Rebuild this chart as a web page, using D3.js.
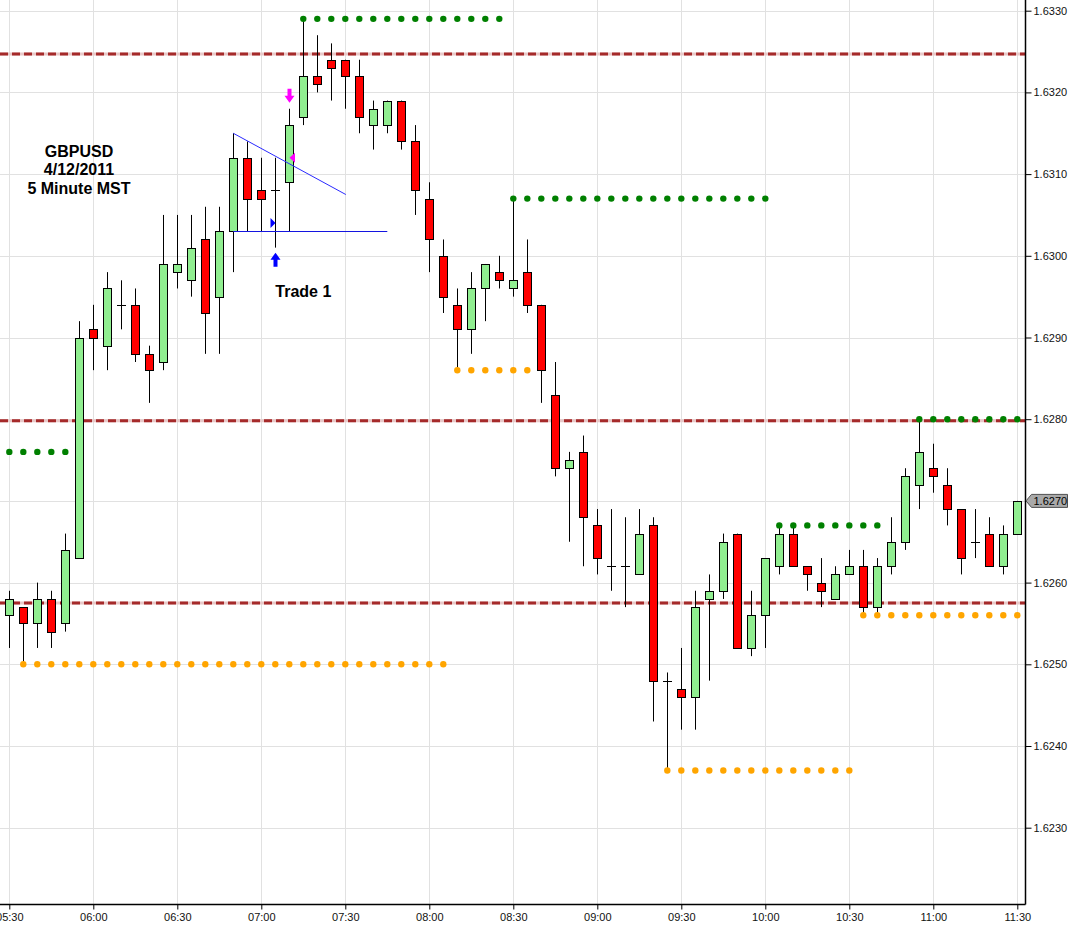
<!DOCTYPE html>
<html>
<head>
<meta charset="utf-8">
<script src="https://cdn.jsdelivr.net/npm/d3@7"></script>
<style>
  html, body { margin: 0; padding: 0; background: #fff; }
  svg { display: block; font-family: Arial, "Liberation Sans", sans-serif; }
</style>
</head>
<body>
<svg id="chart" width="1080" height="931"></svg>
<script>
// ---------------- DATA ----------------
const times = ["05:30","05:35","05:40","05:45","05:50","05:55","06:00","06:05","06:10","06:15",
  "06:20","06:25","06:30","06:35","06:40","06:45","06:50","06:55","07:00","07:05",
  "07:10","07:15","07:20","07:25","07:30","07:35","07:40","07:45","07:50","07:55",
  "08:00","08:05","08:10","08:15","08:20","08:25","08:30","08:35","08:40","08:45",
  "08:50","08:55","09:00","09:05","09:10","09:15","09:20","09:25","09:30","09:35",
  "09:40","09:45","09:50","09:55","10:00","10:05","10:10","10:15","10:20","10:25",
  "10:30","10:35","10:40","10:45","10:50","10:55","11:00","11:05","11:10","11:15",
  "11:20","11:25","11:30"];

const openP = [1.6256,1.6257,1.6255,1.6258,1.6255,1.6263,1.6291,1.6289,1.6294,1.6294,
  1.6288,1.6287,1.6298,1.6297,1.6302,1.6295,1.6303,1.6312,1.6308,1.6308,
  1.6309,1.6317,1.6322,1.6324,1.6324,1.6322,1.6316,1.6316,1.6319,1.6314,
  1.6307,1.6300,1.6294,1.6291,1.6296,1.6298,1.6296,1.6298,1.6294,1.6283,
  1.6274,1.6276,1.6267,1.6262,1.6262,1.6261,1.6267,1.6248,1.6247,1.6246,
  1.6258,1.6259,1.6266,1.6252,1.6256,1.6262,1.6266,1.6262,1.6260,1.6258,
  1.6261,1.6262,1.6257,1.6262,1.6265,1.6272,1.6274,1.6272,1.6269,1.6265,
  1.6266,1.6262,1.6266];

const highP = [1.6259,1.6257,1.6260,1.6259,1.6266,1.6292,1.6294,1.6298,1.6297,1.6296,
  1.6289,1.6305,1.6305,1.6305,1.6306,1.6306,1.6315,1.6314,1.6312,1.6312,
  1.6318,1.6329,1.6327,1.6326,1.6324,1.6324,1.6319,1.6319,1.6319,1.6316,
  1.6309,1.6302,1.6296,1.6298,1.6299,1.6300,1.6307,1.6302,1.6294,1.6287,
  1.6276,1.6278,1.6269,1.6269,1.6268,1.6269,1.6268,1.6249,1.6252,1.6259,
  1.6261,1.6266,1.6266,1.6259,1.6263,1.6267,1.6267,1.6262,1.6263,1.6262,
  1.6264,1.6264,1.6263,1.6268,1.6274,1.6280,1.6277,1.6274,1.6269,1.6269,
  1.6268,1.6267,1.6270];

const lowP = [1.6252,1.6250,1.6252,1.6252,1.6254,1.6263,1.6286,1.6286,1.6291,1.6287,
  1.6282,1.6286,1.6296,1.6295,1.6288,1.6288,1.6298,1.6303,1.6303,1.6301,
  1.6303,1.6316,1.6320,1.6319,1.6318,1.6315,1.6313,1.6315,1.6313,1.6305,
  1.6298,1.6293,1.6286,1.6288,1.6292,1.6296,1.6295,1.6293,1.6282,1.6273,
  1.6265,1.6262,1.6261,1.6259,1.6257,1.6261,1.6243,1.6237,1.6242,1.6242,
  1.6248,1.6258,1.6252,1.6251,1.6252,1.6261,1.6262,1.6259,1.6257,1.6258,
  1.6261,1.6256,1.6256,1.6261,1.6264,1.6269,1.6271,1.6267,1.6261,1.6263,
  1.6262,1.6261,1.6266];

const closeP = [1.6258,1.6255,1.6258,1.6254,1.6264,1.6290,1.6290,1.6296,1.6294,1.6288,
  1.6286,1.6299,1.6299,1.6301,1.6293,1.6303,1.6312,1.6307,1.6307,1.6308,
  1.6316,1.6322,1.6321,1.6323,1.6322,1.6317,1.6318,1.6319,1.6314,1.6308,
  1.6302,1.6295,1.6291,1.6296,1.6299,1.6297,1.6297,1.6294,1.6286,1.6274,
  1.6275,1.6268,1.6263,1.6262,1.6262,1.6266,1.6248,1.6248,1.6246,1.6257,
  1.6259,1.6265,1.6252,1.6256,1.6263,1.6266,1.6262,1.6261,1.6259,1.6261,
  1.6262,1.6257,1.6262,1.6265,1.6273,1.6276,1.6273,1.6269,1.6263,1.6265,
  1.6262,1.6266,1.6270];

// dashed horizontal levels
const dashedLevels = [1.63247, 1.62798, 1.62575];

// dotted support / resistance runs: [start time, end time, price]
const greenDots = [["05:30","05:50",1.6276],["07:15","08:25",1.6329],["08:30","10:00",1.6307],
  ["10:05","10:40",1.6267],["10:55","11:30",1.6280]];
const orangeDots = [["05:35","08:05",1.6250],["08:10","08:35",1.6286],["09:25","10:30",1.6237],
  ["10:35","11:30",1.6256]];

// tick labels
const priceTicks = [1.6230,1.6240,1.6250,1.6260,1.6270,1.6280,1.6290,1.6300,1.6310,1.6320,1.6330];
const timeTicks = ["05:30","06:00","06:30","07:00","07:30","08:00","08:30","09:00","09:30","10:00","10:30","11:00","11:30"];

// annotations
const titleLines = ["GBPUSD", "4/12/2011", "5 Minute MST"];
const tradeLabel = "Trade 1";
const trendLine = [["06:50",1.6315],["07:30",1.63075]];
const baseLine = [["06:50",1.6303],["07:45",1.6303]];
const entryMarkPrice = 1.6312;
const triggerMarkPrice = 1.6304;
const lastPrice = 1.6270;

// ---------------- SCALES ----------------
const parseT = d3.timeParse("%H:%M");
const W = 1080, H = 931;
const plotR = 1025.5, plotB = 904.5;
const x = d3.scaleTime().domain([parseT("05:30"), parseT("11:30")]).range([9.3, 1017.3]);
const y = d3.scaleLinear().domain([1.6230, 1.6330]).range([827.7, 10.7]);
const X = t => x(parseT(t));

const svg = d3.select("#chart");
svg.append("rect").attr("width", W).attr("height", H).attr("fill", "#fff");

svg.append("defs").append("clipPath").attr("id", "plot")
  .append("rect").attr("x", 0).attr("y", 0).attr("width", plotR).attr("height", plotB);

const plot = svg.append("g").attr("clip-path", "url(#plot)");

// grid
const crisp = v => Math.round(v) + 0.5;
plot.selectAll("line.hg").data(priceTicks).join("line")
  .attr("x1", 0).attr("x2", plotR)
  .attr("y1", d => crisp(y(d))).attr("y2", d => crisp(y(d)))
  .attr("stroke", "#e1e1e1").attr("stroke-width", 1);
plot.selectAll("line.vg").data(timeTicks).join("line")
  .attr("x1", d => crisp(X(d))).attr("x2", d => crisp(X(d)))
  .attr("y1", 0).attr("y2", plotB)
  .attr("stroke", "#e1e1e1").attr("stroke-width", 1);

// dashed levels
plot.selectAll("line.dl").data(dashedLevels).join("line")
  .attr("x1", 0).attr("x2", plotR)
  .attr("y1", d => y(d)).attr("y2", d => y(d))
  .attr("stroke", "#e8c8c8").attr("stroke-width", 3);
plot.selectAll("line.dl2").data(dashedLevels).join("line")
  .attr("x1", 0).attr("x2", plotR)
  .attr("y1", d => y(d)).attr("y2", d => y(d))
  .attr("stroke", "#a52a2a").attr("stroke-width", 3)
  .attr("stroke-dasharray", "8,4");

// dotted runs
function dotRun(runs, color) {
  runs.forEach(([a, b, p]) => {
    const i0 = times.indexOf(a), i1 = times.indexOf(b);
    const pts = times.slice(i0, i1 + 1);
    plot.append("g").selectAll("circle").data(pts).join("circle")
      .attr("cx", d => X(d)).attr("cy", y(p)).attr("r", 3.2).attr("fill", color);
  });
}

// candles
const candles = times.map((t, i) => ({ t, o: openP[i], h: highP[i], l: lowP[i], c: closeP[i] }));
const cg = plot.append("g");
candles.forEach(d => {
  const cx = Math.round(X(d.t)) + 0.5;
  cg.append("line").attr("x1", cx).attr("x2", cx)
    .attr("y1", y(d.h)).attr("y2", y(d.l)).attr("stroke", "#000").attr("stroke-width", 1);
  if (d.o === d.c) {
    const yy = Math.round(y(d.o)) + 0.5;
    cg.append("line").attr("x1", cx - 4.5).attr("x2", cx + 4.5)
      .attr("y1", yy).attr("y2", yy).attr("stroke", "#000").attr("stroke-width", 1);
  } else {
    const top = Math.round(y(Math.max(d.o, d.c))) + 0.5;
    const bot = Math.round(y(Math.min(d.o, d.c))) + 0.5;
    cg.append("rect").attr("x", cx - 4).attr("y", top)
      .attr("width", 8).attr("height", bot - top)
      .attr("fill", d.c > d.o ? "#90ee90" : "#ff0000")
      .attr("stroke", "#000").attr("stroke-width", 1);
  }
});

dotRun(greenDots, "#008000");
dotRun(orangeDots, "#ffa500");

// trend lines
plot.append("line")
  .attr("x1", X(trendLine[0][0])).attr("y1", y(trendLine[0][1]))
  .attr("x2", X(trendLine[1][0]) + 0.5).attr("y2", y(trendLine[1][1]))
  .attr("stroke", "#2a2aff").attr("stroke-width", 1);
plot.append("line")
  .attr("x1", X(baseLine[0][0])).attr("y1", crisp(y(baseLine[0][1])))
  .attr("x2", X(baseLine[1][0])).attr("y2", crisp(y(baseLine[1][1])))
  .attr("stroke", "#1414e0").attr("stroke-width", 1);

// markers
const entryT = "07:10", trigT = "07:05";
const ex = Math.round(X(entryT)) + 0.5;
// magenta down arrow above entry candle
const dTip = y(highP[times.indexOf(entryT)]) - 6;
plot.append("path")
  .attr("d", `M${ex-2},${dTip-14} L${ex+2},${dTip-14} L${ex+2},${dTip-7} L${ex+5},${dTip-7} L${ex},${dTip} L${ex-5},${dTip-7} L${ex-2},${dTip-7} Z`)
  .attr("fill", "#ff00ff");
// magenta left triangle
const my = y(entryMarkPrice);
plot.append("path")
  .attr("d", `M${ex},${my} L${ex+5.5},${my-5} L${ex+5.5},${my+5} Z`)
  .attr("fill", "#ff00ff");
// blue right triangle
const tx = Math.round(X(trigT)) + 0.5;
const by = y(triggerMarkPrice);
plot.append("path")
  .attr("d", `M${tx},${by} L${tx-5},${by-5} L${tx-5},${by+5} Z`)
  .attr("fill", "#0000ff");
// blue up arrow below trigger candle
const uTip = y(lowP[times.indexOf(trigT)]) + 5;
plot.append("path")
  .attr("d", `M${tx},${uTip} L${tx+5},${uTip+7} L${tx+2},${uTip+7} L${tx+2},${uTip+14} L${tx-2},${uTip+14} L${tx-2},${uTip+7} L${tx-5},${uTip+7} Z`)
  .attr("fill", "#0000ff");

// text annotations
const tg = svg.append("g").attr("font-weight", "bold").attr("font-size", 16).attr("fill", "#000");
tg.selectAll("text").data(titleLines).join("text")
  .attr("x", 79).attr("y", (d, i) => 156.5 + i * 18.6)
  .attr("text-anchor", "middle").text(d => d);
tg.append("text").attr("x", X(trigT)).attr("y", 296.5).text(tradeLabel);

// axes
const yAxis = d3.axisRight(y).tickValues(priceTicks).tickFormat(d3.format(".4f"))
  .tickSize(6).tickPadding(2);
const ya = svg.append("g").attr("transform", `translate(${plotR},0)`).call(yAxis);
ya.select(".domain").remove();
ya.selectAll("text").attr("font-size", 11).attr("font-family", "Arial, 'Liberation Sans', sans-serif").attr("fill", "#111");
ya.selectAll("line").attr("stroke", "#000");

const xAxis = d3.axisBottom(x).tickValues(timeTicks.map(parseT))
  .tickFormat(d3.timeFormat("%H:%M")).tickSize(5).tickPadding(4);
const xa = svg.append("g").attr("transform", `translate(0,${plotB})`).call(xAxis);
xa.select(".domain").remove();
xa.selectAll("text").attr("font-size", 11).attr("font-family", "Arial, 'Liberation Sans', sans-serif").attr("fill", "#111");
xa.selectAll("line").attr("stroke", "#000");

svg.append("line").attr("x1", plotR).attr("x2", plotR).attr("y1", 0).attr("y2", plotB)
  .attr("stroke", "#000").attr("stroke-width", 1.5);
svg.append("line").attr("x1", 0).attr("x2", plotR).attr("y1", plotB).attr("y2", plotB)
  .attr("stroke", "#000").attr("stroke-width", 1.5);

// last price tag
const ly = y(lastPrice);
svg.append("path")
  .attr("d", `M${plotR+0.5},${ly} L${plotR+6},${ly-6.5} L${plotR+42},${ly-6.5} L${plotR+42},${ly+6.5} L${plotR+6},${ly+6.5} Z`)
  .attr("fill", "#a9a9a9").attr("stroke", "#505050").attr("stroke-width", 1);
svg.append("text").attr("x", plotR + 8).attr("y", ly + 4)
  .attr("font-size", 11).attr("fill", "#000").text(d3.format(".4f")(lastPrice));
</script>
</body>
</html>
